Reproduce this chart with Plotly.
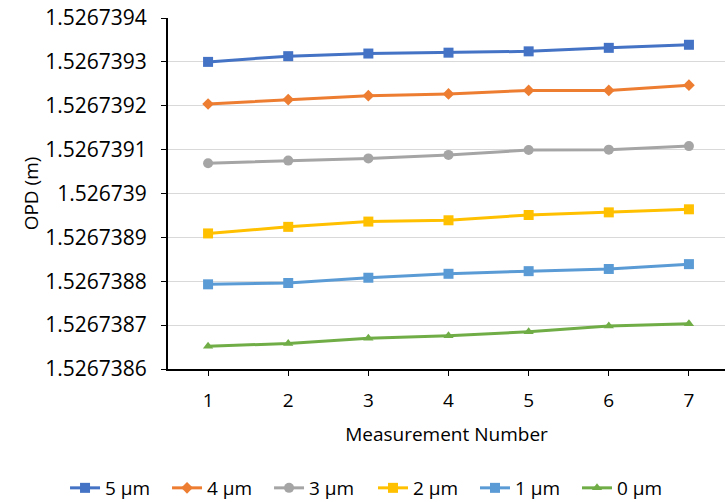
import plotly.graph_objects as go

measurement = [1, 2, 3, 4, 5, 6, 7]
opd_5um = [1.52673930, 1.526739313, 1.526739319, 1.526739321, 1.526739324, 1.526739332, 1.526739339]
opd_4um = [1.526739204, 1.526739214, 1.526739223, 1.526739227, 1.526739235, 1.526739235, 1.526739247]
opd_3um = [1.526739069, 1.526739075, 1.526739080, 1.526739088, 1.526739099, 1.526739100, 1.526739108]
opd_2um = [1.526738909, 1.526738924, 1.526738936, 1.526738939, 1.526738951, 1.526738957, 1.526738964]
opd_1um = [1.526738793, 1.526738796, 1.526738808, 1.526738817, 1.526738823, 1.526738828, 1.526738839]
opd_0um = [1.526738652, 1.526738658, 1.526738670, 1.526738676, 1.526738685, 1.526738698, 1.526738703]

y_tickvals = [1.5267386, 1.5267387, 1.5267388, 1.5267389, 1.526739, 1.5267391, 1.5267392, 1.5267393, 1.5267394]
y_ticktext = ["1.5267386", "1.5267387", "1.5267388", "1.5267389", "1.526739", "1.5267391", "1.5267392", "1.5267393", "1.5267394"]

series = [
    ("5 µm", opd_5um, "#4472C4", "square", 10, "legend"),
    ("4 µm", opd_4um, "#ED7D31", "diamond", 9, "legend"),
    ("3 µm", opd_3um, "#A5A5A5", "circle", 10, "legend"),
    ("2 µm", opd_2um, "#FFC000", "square", 10, "legend2"),
    ("1 µm", opd_1um, "#5B9BD5", "square", 10, "legend2"),
    ("0 µm", opd_0um, "#70AD47", "triangle-up", 9, "legend2"),
]

FONT = "Open Sans"
fig = go.Figure()
for name, vals, color, sym, sz, lg in series:
    fig.add_trace(go.Scatter(
        x=measurement, y=vals, name=name, mode="lines+markers",
        line=dict(color=color, width=3),
        marker=dict(symbol=sym, size=sz, color=color),
        legend=lg,
    ))

legend_common = dict(orientation="h", xref="container", yref="container",
                     xanchor="left", y=0.0279, yanchor="middle",
                     font=dict(size=19), entrywidth=57, entrywidthmode="pixels",
                     tracegroupgap=0, itemwidth=30, bgcolor="rgba(0,0,0,0)")

fig.update_layout(
    width=725, height=502,
    margin=dict(l=168, r=0, t=18, b=133),
    paper_bgcolor="white", plot_bgcolor="white",
    font=dict(family=FONT, size=19, color="#000000"),
    legend=dict(x=0.0897, **legend_common),
    legend2=dict(x=0.5145, **legend_common),
    xaxis=dict(
        range=[0.5, 7.45], tickvals=measurement, ticktext=[str(m) for m in measurement],
        showline=True, linecolor="black", linewidth=2,
        ticks="outside", ticklen=5, tickcolor="black", tickwidth=1,
        showgrid=False, zeroline=False, automargin=False,
        tickfont=dict(size=19), ticklabelstandoff=8,
        title=dict(text="Measurement Number", font=dict(size=19), standoff=16),
    ),
    yaxis=dict(
        range=[1.5267386, 1.52673940001], tickvals=y_tickvals, ticktext=y_ticktext,
        showline=True, linecolor="black", linewidth=2,
        ticks="outside", ticklen=5, tickcolor="black", tickwidth=1,
        showgrid=True, gridcolor="#D9D9D9", gridwidth=1, zeroline=False, automargin=False,
        tickfont=dict(size=21), ticklabelstandoff=10, ticklabeloverflow="allow",
        title=dict(text="OPD (m)", font=dict(size=19), standoff=2),
    ),
)

fig.write_html("out.html", config={"displayModeBar": False},
               post_script="document.body.style.margin='0';")
